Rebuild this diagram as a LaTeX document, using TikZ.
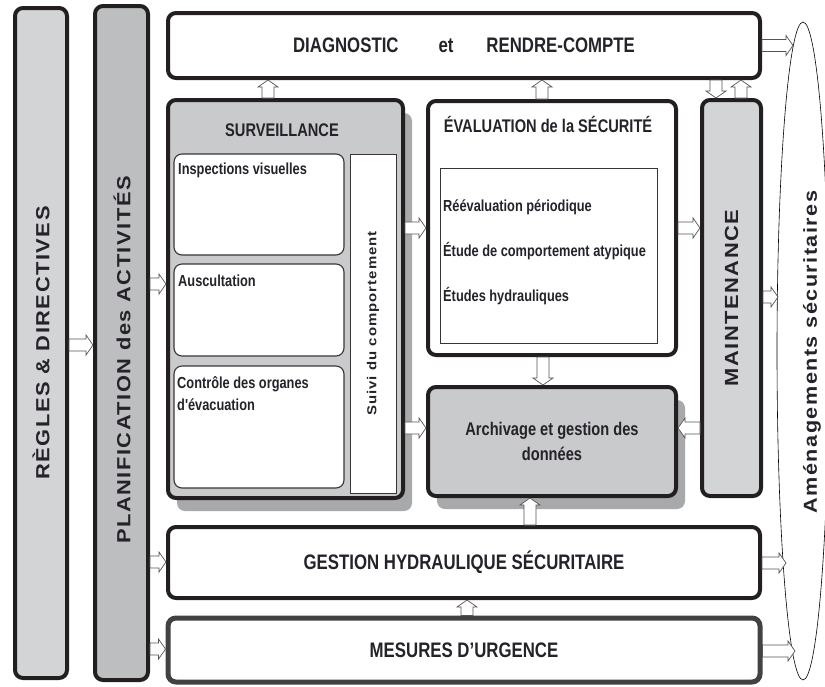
\documentclass[tikz,border=0pt]{standalone}
\usepackage{fontspec}
\setmainfont{Liberation Sans}
\newfontfamily\narrowf[FakeStretch=0.8]{Liberation Sans}
\newfontfamily\widef[LetterSpace=8,FakeStretch=1.15]{Liberation Sans}
\usetikzlibrary{calc,shapes.geometric,shadows}
\definecolor{bordc}{HTML}{231F20}
\definecolor{lightg}{HTML}{D3D4D6}
\definecolor{midg}{HTML}{BDBEC0}
\definecolor{survg}{HTML}{C9CACC}
\definecolor{shadg}{HTML}{A8A9AB}
\definecolor{txtc}{HTML}{25222A}
\definecolor{arrc}{HTML}{555555}
\newcommand{\setfs}[2]{\fontsize{#1}{#2}\selectfont}
\begin{document}
\begin{tikzpicture}[x=1pt,y=-1pt,
 bigbox/.style={draw=bordc, line width=4pt, rounded corners=8pt, inner sep=0pt, text=txtc},
 sbox/.style={draw=bordc!90, line width=1.1pt, rounded corners=8pt, fill=white, inner sep=0pt},
 plainbox/.style={draw=bordc!90, line width=0.9pt, fill=white, inner sep=0pt, text=txtc},
 lbl/.style={inner sep=0pt, text=txtc},
 titlef/.style={font=\narrowf\bfseries\setfs{21}{25}},
 subtitle/.style={lbl, font=\narrowf\bfseries\setfs{18.3}{25}},
 item/.style={lbl, font=\narrowf\bfseries\setfs{16}{22}},
 shadowed/.style={drop shadow={shadow xshift=9pt, shadow yshift=-13pt, fill=shadg, opacity=1}},
 barrow/.style={draw=arrc, fill=white, line width=0.7pt, line join=miter,
   to path={let \p1=(\tikztostart), \p2=(\tikztotarget), \p3=($(\p2)!7pt!(\p1)$) in
     ($(\p1)!6pt!90:(\p2)$) -- ($(\p3)!6pt!-90:(\p1)$) -- ($(\p3)!10pt!-90:(\p1)$) -- (\p2)
     -- ($(\p3)!10pt!90:(\p1)$) -- ($(\p3)!6pt!90:(\p1)$) -- ($(\p1)!6pt!-90:(\p2)$) -- cycle}}
]
\useasboundingbox (0,0) rectangle (825,686);

% ellipse
\node[draw=black, ellipse, line width=0.6pt, minimum width=52pt, minimum height=658pt, inner sep=0pt] (ell) at (803,351) {};
\node[lbl] (amt) at (812,352) {\rotatebox{90}{\widef\bfseries\setfs{18.8}{20}Aménagements sécuritaires}};

% left columns
\node[bigbox, fill=lightg, minimum width=52pt, minimum height=670pt] (regles) at (41,343)
  {\rotatebox{90}{\widef\bfseries\setfs{19}{20}RÈGLES \& DIRECTIVES}};
\node[bigbox, fill=midg, minimum width=53pt, minimum height=674pt] (plan) at (121.5,343) {};
\node[lbl] (plant) at (122,360) {\rotatebox{90}{\widef\bfseries\setfs{19}{20}PLANIFICATION des ACTIVITÉS}};

% top box
\node[bigbox, fill=white, titlef, minimum width=592pt, minimum height=65pt] (diag) at (464,45.5)
  {DIAGNOSTIC\hspace{40pt}et\hspace{33pt}RENDRE-COMPTE};

% surveillance
\node[bigbox, fill=survg, shadowed, minimum width=235pt, minimum height=398pt] (surv) at (285.5,299) {};
\node[subtitle] (survt) at (282,130) {SURVEILLANCE};
\node[sbox, minimum width=170pt, minimum height=101pt] (insp) at (259,204.5) {};
\node[item, anchor=west] (inspt) at (178,170) {Inspections visuelles};
\node[sbox, minimum width=170pt, minimum height=92pt] (ausc) at (259,310) {};
\node[item, anchor=west] (ausct) at (178,281) {Auscultation};
\node[sbox, minimum width=170pt, minimum height=122pt] (ctrl) at (259,427) {};
\node[item, anchor=north west, align=left] (ctrlt) at (177,376) {Contrôle des organes\\d'évacuation};
\node[plainbox, minimum width=46pt, minimum height=339pt] (suivi) at (373,323.5)
  {\rotatebox{90}{\widef\bfseries\setfs{13}{14}Suivi du comportement}};

% evaluation
\node[bigbox, fill=white, minimum width=248pt, minimum height=254pt] (eval) at (552,228) {};
\node[subtitle] (evalt) at (548,124) {ÉVALUATION de la SÉCURITÉ};
\node[plainbox, minimum width=217pt, minimum height=175pt] (evalin) at (548.5,255.5) {};
\node[item, anchor=west] (e1) at (443,207) {Réévaluation périodique};
\node[item, anchor=west] (e2) at (443,251) {Étude de comportement atypique};
\node[item, anchor=west] (e3) at (443,296) {Études hydrauliques};

% archivage
\node[bigbox, fill=survg, shadowed, minimum width=248pt, minimum height=109pt, align=center,
  font=\narrowf\bfseries\setfs{18.3}{25}] (arch) at (552,441.5) {Archivage et gestion des\\données};

% maintenance
\node[bigbox, fill=lightg, minimum width=59pt, minimum height=396pt] (maint) at (731.5,298)
  {\rotatebox{90}{\widef\bfseries\setfs{19}{20}MAINTENANCE}};

% bottom boxes
\node[bigbox, fill=white, titlef, minimum width=592pt, minimum height=71pt] (gest) at (464,562.5)
  {GESTION HYDRAULIQUE SÉCURITAIRE};
\node[bigbox, draw=bordc!85, line width=5pt, fill=white, titlef, minimum width=592pt, minimum height=64pt] (mes) at (464,650)
  {MESURES D’URGENCE};

% arrow end points on the ellipse
\coordinate (c1) at (793,45.5);
\coordinate (c2) at (778,297);
\coordinate (c3) at (786,563);
\coordinate (c4) at (795,651);

% arrows
\draw[barrow] (regles.east |- 0,345) to (plan.west |- 0,345);
\draw[barrow] (plan.east |- 0,284) to (surv.west |- 0,284);
\draw[barrow] (plan.east |- 0,562) to (gest.west |- 0,562);
\draw[barrow] (plan.east |- 0,649) to (mes.west |- 0,649);
\draw[barrow] (surv.north -| 268,0) to (diag.south -| 268,0);
\draw[barrow] (eval.north -| 542,0) to (diag.south -| 542,0);
\draw[barrow] (diag.south -| 716,0) to (maint.north -| 716,0);
\draw[barrow] (maint.north -| 741,0) to (diag.south -| 741,0);
\draw[barrow] (diag.east) to (c1);
\draw[barrow] (surv.east |- 0,228) to (eval.west |- 0,228);
\draw[barrow] (surv.east |- 0,428) to (arch.west |- 0,428);
\draw[barrow] (eval.south -| 543,0) to (arch.north -| 543,0);
\draw[barrow] (eval.east |- 0,228) to (maint.west |- 0,228);
\draw[barrow] (maint.west |- 0,428) to (arch.east |- 0,428);
\draw[barrow] (maint.east |- 0,297) to (c2);
\draw[barrow] (gest.north -| 530,0) to (arch.south -| 530,0);
\draw[barrow] (mes.north -| 467,0) to (gest.south -| 467,0);
\draw[barrow] (gest.east |- 0,563) to (c3);
\draw[barrow] (mes.east |- 0,651) to (c4);
\end{tikzpicture}
\end{document}
